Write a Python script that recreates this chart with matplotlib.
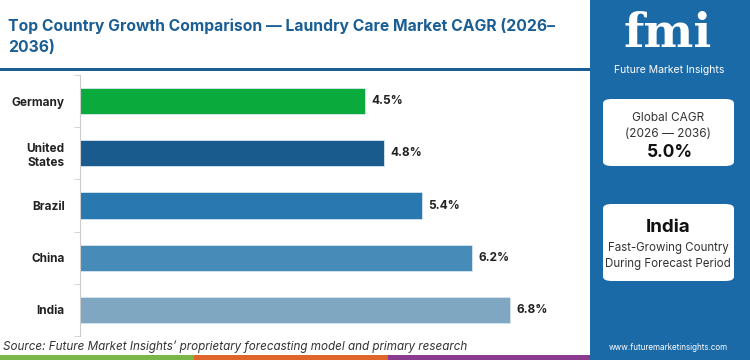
import matplotlib.pyplot as plt
from matplotlib.patches import Rectangle, FancyBboxPatch

countries = ["Germany", "United\nStates", "Brazil", "China", "India"]
cagr = [4.5, 4.8, 5.4, 6.2, 6.8]
bar_colors = ["#0aab3c", "#185b8c", "#2a78b0", "#478cb9", "#7fa7c1"]
value_labels = ["4.5%", "4.8%", "5.4%", "6.2%", "6.8%"]

title = "Top Country Growth Comparison \u2014 Laundry Care Market CAGR (2026\u2013\n2036)"
source = "Source: Future Market Insights\u2019 proprietary forecasting model and primary research"
global_cagr = "5.0%"
fast_country = "India"

W, H = 750, 360
BLUE = "#1b6aa8"
TITLE_BLUE = "#1b5e93"

plt.rcParams['font.family'] = ['Inter', 'DejaVu Sans']

fig = plt.figure(figsize=(W / 100, H / 100), dpi=100)


def fx(x):
    return x / W


def fy(y):
    return 1 - y / H


# title + rule
fig.text(fx(8), fy(36), title, fontsize=11.3, fontweight='bold', color=TITLE_BLUE,
         ha='left', va='center', linespacing=1.5)
fig.add_artist(Rectangle((0, fy(71)), fx(590), 3 / H, transform=fig.transFigure,
                         color=TITLE_BLUE, lw=0))

# bar chart
ax = fig.add_axes([fx(80), 1 - 336 / H, fx(500), 261 / H])
ypos = list(range(len(countries)))
ax.barh(ypos, cagr, height=0.5, color=bar_colors, edgecolor='#d6e6f0', linewidth=0.6)
for y, v, lab in zip(ypos, cagr, value_labels):
    ax.text(v + 0.1, y, lab, fontsize=8.5, fontweight='bold', color='#222222',
            ha='left', va='center')
ax.set_xlim(0, 7.9)
ax.set_ylim(len(countries) - 0.5, -0.5)
ax.set_yticks(ypos)
ax.set_yticklabels(countries, fontsize=8.5, fontweight='bold', color='#222222')
ax.set_yticks([i - 0.5 for i in range(len(countries) + 1)], minor=True)
ax.tick_params(axis='y', which='major', length=0, pad=11)
ax.tick_params(axis='y', which='minor', length=4, color='#cccccc')
ax.set_xticks([])
for s in ['top', 'right', 'bottom']:
    ax.spines[s].set_visible(False)
ax.spines['left'].set_color('#cccccc')

# source
fig.text(fx(3), fy(347), source, fontsize=8.4, style='italic', color='#333333',
         ha='left', va='center')

# bottom colour strip
for x0, x1, c in [(0, 194, '#7ab648'), (194, 388, '#e0652b'), (388, 590, '#8a3b8f')]:
    fig.add_artist(Rectangle((fx(x0), 0), fx(x1 - x0), 5 / H, transform=fig.transFigure,
                             color=c, lw=0))

# right panel
fig.add_artist(Rectangle((fx(590), 0), fx(160), 1, transform=fig.transFigure,
                         color=BLUE, lw=0))
fig.text(fx(668), fy(34), "fmi", fontsize=34, fontweight='bold', color='white',
         ha='center', va='center', family=['DejaVu Serif'])
for yy in range(17, 56, 5):
    fig.add_artist(Rectangle((fx(612), fy(yy)), fx(112), 1.2 / H,
                             transform=fig.transFigure, color=BLUE, lw=0))
fig.text(fx(669), fy(70), "Future Market Insights", fontsize=7.5, color='white',
         ha='center', va='center')

box_l, box_w = 603, 131
fig.add_artist(FancyBboxPatch((fx(box_l), fy(166)), fx(box_w), 67 / H,
                              boxstyle="round,pad=0,rounding_size=0.012",
                              transform=fig.transFigure, color='white', lw=0))
fig.text(fx(668), fy(118), "Global CAGR", fontsize=8.5, color='#333333', ha='center', va='center')
fig.text(fx(668), fy(134), "(2026 \u2014 2036)", fontsize=8.5, color='#333333', ha='center', va='center')
fig.text(fx(670), fy(152), global_cagr, fontsize=12.5, fontweight='bold', color='#111111',
         ha='center', va='center')

fig.add_artist(FancyBboxPatch((fx(box_l), fy(281)), fx(box_w), 77 / H,
                              boxstyle="round,pad=0,rounding_size=0.012",
                              transform=fig.transFigure, color='white', lw=0))
fig.text(fx(668), fy(227), fast_country, fontsize=13.5, fontweight='bold', color='#111111',
         ha='center', va='center')
fig.text(fx(668), fy(248), "Fast-Growing Country", fontsize=8.3, color='#333333',
         ha='center', va='center')
fig.text(fx(668), fy(264), "During Forecast Period", fontsize=8.3, color='#333333',
         ha='center', va='center')

fig.text(fx(668), fy(347), "www.futuremarketinsights.com", fontsize=5.8, color='white',
         ha='center', va='center')

fig.savefig("out.png", dpi=100)
